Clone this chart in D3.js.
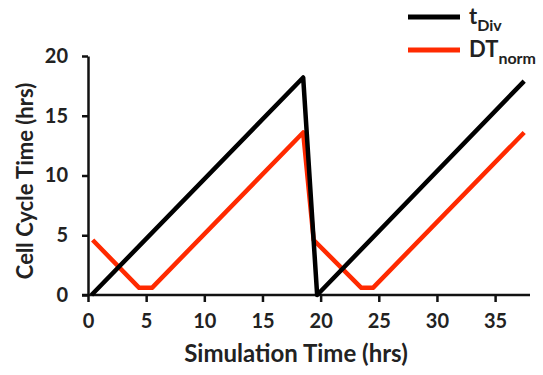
<!DOCTYPE html>
<html>
<head>
<meta charset="utf-8">
<script src="https://cdn.jsdelivr.net/npm/d3@7"></script>
<style>
  body { margin: 0; background: #fff; }
  text { font-family: Lato, "Open Sans", sans-serif; font-weight: bold; fill: #222; }
</style>
</head>
<body>
<svg id="chart" width="543" height="375"></svg>
<script>
// values
const tDivTime = [0.3, 18.5, 19.7, 37.5];
const tDivValue = [0, 18.2, 0, 17.9];
const dtNormTime = [0.4, 4.4, 5.5, 18.5, 19.4, 23.5, 24.5, 37.5];
const dtNormValue = [4.6, 0.6, 0.6, 13.6, 4.6, 0.6, 0.6, 13.6];
const xTicks = [0, 5, 10, 15, 20, 25, 30, 35];
const yTicks = [0, 5, 10, 15, 20];

const svg = d3.select('#chart');

const xScale = d3.scaleLinear()
                 .domain([0, 38])
                 .range([88, 530]);
const yScale = d3.scaleLinear()
                 .domain([0, 20])
                 .range([295, 56]);

//X axis
const xAxis = d3.axisBottom(xScale)
                .tickValues(xTicks)
                .tickSizeInner(7)
                .tickSizeOuter(0)
                .tickPadding(12);
const gx = svg.append('g')
   .attr('transform', `translate(0,${yScale(0)})`)
   .call(xAxis);

//Y axis
const yAxis = d3.axisLeft(yScale)
                .tickValues(yTicks)
                .tickSizeInner(6)
                .tickSizeOuter(0)
                .tickPadding(14);
const gy = svg.append('g')
   .attr('transform', `translate(${xScale(0)},0)`)
   .call(yAxis);

[gx, gy].forEach(g => {
  g.select('.domain').attr('stroke', '#111').attr('stroke-width', 2.5);
  g.selectAll('.tick line').attr('stroke', '#111').attr('stroke-width', 2.5);
  g.selectAll('.tick text').attr('font-size', 20).attr('fill', '#222')
   .attr('font-family', 'Lato, sans-serif').attr('font-weight', 'bold');
});
// x axis line runs a little left of the y axis
gx.select('.domain').attr('d', `M${xScale(0) - 6},0H${xScale(38)}`);

// axis titles
svg.append('text')
   .attr('x', 296).attr('y', 362)
   .attr('text-anchor', 'middle')
   .attr('font-size', 24)
   .text('Simulation Time (hrs)');
svg.append('text')
   .attr('transform', 'translate(33,181) rotate(-90)')
   .attr('text-anchor', 'middle')
   .attr('font-size', 22)
   .text('Cell Cycle Time (hrs)');

const line = d3.line()
               .x(d => xScale(d[0]))
               .y(d => yScale(d[1]));

svg.append('path')
   .datum(d3.zip(dtNormTime, dtNormValue))
   .attr('fill', 'none')
   .attr('stroke', '#ff2a00')
   .attr('stroke-width', 4.5)
   .attr('stroke-linejoin', 'round')
   .attr('d', line);

svg.append('path')
   .datum(d3.zip(tDivTime, tDivValue))
   .attr('fill', 'none')
   .attr('stroke', '#000')
   .attr('stroke-width', 4.5)
   .attr('stroke-linejoin', 'round')
   .attr('d', line);

// legend
const legend = [
  {name: 't', sub: 'Div', color: '#000', y: 17},
  {name: 'DT', sub: 'norm', color: '#ff2a00', y: 50}
];
const lg = svg.append('g');
lg.selectAll('line')
  .data(legend)
  .join('line')
  .attr('x1', 408).attr('x2', 460)
  .attr('y1', d => d.y).attr('y2', d => d.y)
  .attr('stroke', d => d.color)
  .attr('stroke-width', 5);
const lt = lg.selectAll('text')
  .data(legend)
  .join('text')
  .attr('x', 469)
  .attr('y', d => d.y + 7)
  .attr('font-size', 22);
lt.append('tspan').text(d => d.name);
lt.append('tspan')
  .attr('dy', 7)
  .attr('font-size', 16)
  .text(d => d.sub);
</script>
</body>
</html>
